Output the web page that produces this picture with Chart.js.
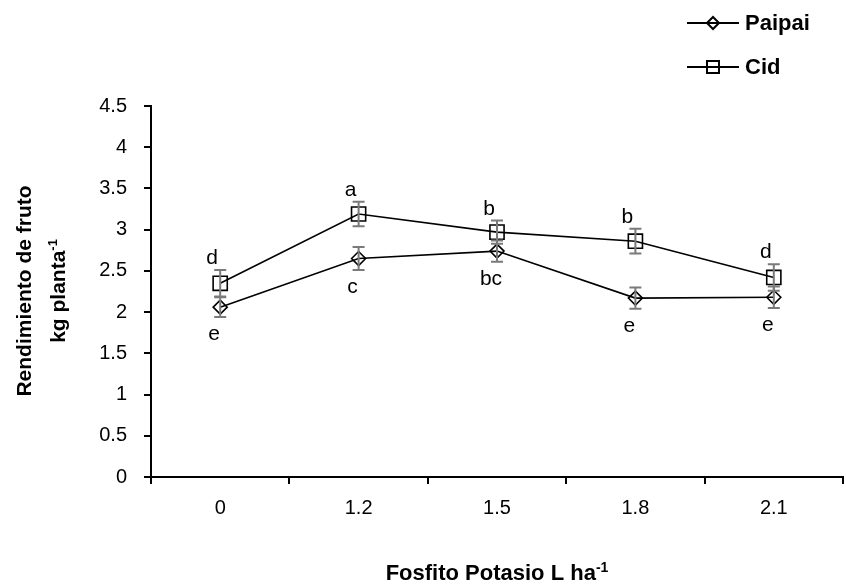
<!DOCTYPE html>
<html>
<head>
<meta charset="utf-8">
<script src="https://cdn.jsdelivr.net/npm/chart.js@4/dist/chart.umd.min.js"></script>
<style>
  html, body { margin: 0; padding: 0; background: #fff; }
  #wrap { width: 846px; height: 588px; }
</style>
</head>
<body>
<div id="wrap"><canvas id="myChart" width="846" height="588"></canvas></div>
<script>
'use strict';
// doses of potassium phosphite (L/ha)
var categories = ['0', '1.2', '1.5', '1.8', '2.1'];

// yield kg/plant
var paipai = [2.06, 2.65, 2.74, 2.17, 2.18];
var cid = [2.35, 3.19, 2.97, 2.86, 2.42];

// standard errors
var paipaiErr = [0.12, 0.14, 0.13, 0.13, 0.13];
var cidErr = [0.16, 0.15, 0.14, 0.15, 0.16];

// mean separation letters
var paipaiLetters = ['e', 'c', 'bc', 'e', 'e'];
var cidLetters = ['d', 'a', 'b', 'b', 'd'];

var yTicks = [0, 0.5, 1, 1.5, 2, 2.5, 3, 3.5, 4, 4.5];

var FONT = "'Liberation Sans', Arial, sans-serif";
var BOLD = "'Liberation Sans', Arial, sans-serif";

/**
 * Draws text with a superscript tail, centred on x
 */
var drawSup = function(ctx, main, sup, x, y, size) {
    ctx.font = 'bold ' + size + 'px ' + BOLD;
    var w1 = ctx.measureText(main).width;
    ctx.font = 'bold ' + Math.round(size * 0.62) + 'px ' + BOLD;
    var w2 = ctx.measureText(sup).width;
    var left = x - (w1 + w2) / 2;
    ctx.textAlign = 'left';
    ctx.textBaseline = 'alphabetic';
    ctx.font = 'bold ' + size + 'px ' + BOLD;
    ctx.fillText(main, left, y);
    ctx.font = 'bold ' + Math.round(size * 0.62) + 'px ' + BOLD;
    ctx.fillText(sup, left + w1, y - size * 0.38);
};

var extras = {
    id: 'extras',
    afterDatasetsDraw: function(chart) {
        var ctx = chart.ctx;
        var x = chart.scales.x;
        var y = chart.scales.y;
        ctx.save();

        // error bars
        ctx.strokeStyle = '#7a7a7a';
        ctx.lineWidth = 2;
        var bars = function(vals, errs) {
            vals.forEach(function(v, i) {
                var px = x.getPixelForValue(i);
                var top = y.getPixelForValue(v + errs[i]);
                var bot = y.getPixelForValue(v - errs[i]);
                ctx.beginPath();
                ctx.moveTo(px, top); ctx.lineTo(px, bot);
                ctx.moveTo(px - 6, top); ctx.lineTo(px + 6, top);
                ctx.moveTo(px - 6, bot); ctx.lineTo(px + 6, bot);
                ctx.stroke();
            });
        };
        bars(paipai, paipaiErr);
        bars(cid, cidErr);

        // letters
        ctx.fillStyle = '#000';
        ctx.font = '21px ' + FONT;
        ctx.textAlign = 'center';
        ctx.textBaseline = 'alphabetic';
        cid.forEach(function(v, i) {
            ctx.fillText(cidLetters[i], x.getPixelForValue(i) - 8, y.getPixelForValue(v + cidErr[i]) - 6);
        });
        paipai.forEach(function(v, i) {
            ctx.fillText(paipaiLetters[i], x.getPixelForValue(i) - 6, y.getPixelForValue(v - paipaiErr[i]) + 23);
        });

        // axis titles
        drawSup(ctx, 'Fosfito Potasio L ha', '-1', (chart.chartArea.left + chart.chartArea.right) / 2, 580, 22);
        ctx.save();
        ctx.translate(25, 291);
        ctx.rotate(-Math.PI / 2);
        ctx.font = 'bold 21px ' + BOLD;
        ctx.textAlign = 'center';
        ctx.textBaseline = 'middle';
        ctx.fillText('Rendimiento de fruto', 0, 0);
        ctx.restore();
        ctx.save();
        ctx.translate(65, 291);
        ctx.rotate(-Math.PI / 2);
        drawSup(ctx, 'kg planta', '-1', 0, 0, 21);
        ctx.restore();

        // legend
        ctx.strokeStyle = '#000';
        var rows = [['Paipai', 'rectRot', 6, 23], ['Cid', 'rect', 8.5, 67]];
        rows.forEach(function(r) {
            ctx.lineWidth = 2;
            ctx.beginPath();
            ctx.moveTo(687, r[3]); ctx.lineTo(739, r[3]);
            ctx.stroke();
            ctx.fillStyle = 'rgba(0,0,0,0)';
            Chart.helpers.drawPoint(ctx, {pointStyle: r[1], radius: r[2], borderWidth: 1.6}, 713, r[3]);
            ctx.fillStyle = '#000';
            ctx.font = 'bold 22px ' + BOLD;
            ctx.textAlign = 'left';
            ctx.textBaseline = 'middle';
            ctx.fillText(r[0], 745, r[3] + 1);
        });
        ctx.restore();
    }
};

var ctx = document.getElementById('myChart');
var myChart = new Chart(ctx, {
    type: 'line',
    data: {
        labels: categories,
        datasets: [{
            label: 'Paipai',
            data: paipai,
            borderColor: '#000',
            borderWidth: 1.6,
            pointStyle: 'rectRot',
            pointRadius: 7,
            pointBorderWidth: 1.6,
            pointBorderColor: '#000',
            pointBackgroundColor: 'rgba(0,0,0,0)'
        }, {
            label: 'Cid',
            data: cid,
            borderColor: '#000',
            borderWidth: 1.6,
            pointStyle: 'rect',
            pointRadius: 10,
            pointBorderWidth: 1.6,
            pointBorderColor: '#000',
            pointBackgroundColor: 'rgba(0,0,0,0)'
        }]
    },
    options: {
        responsive: false,
        animation: false,
        layout: { autoPadding: false, padding: { top: 106, right: 3, left: 0, bottom: 0 } },
        elements: { line: { tension: 0 } },
        plugins: { legend: { display: false }, tooltip: { enabled: false } },
        scales: {
            x: {
                offset: true,
                grid: { offset: true, drawOnChartArea: false, tickLength: 7, color: '#000', lineWidth: 2 },
                border: { color: '#000', width: 2 },
                ticks: { color: '#000', font: { family: FONT, size: 20 }, padding: 12 },
                afterFit: function(scale) {
                    scale.height = 111;
                    scale.paddingLeft = 0;
                    scale.paddingRight = 0;
                }
            },
            y: {
                min: 0,
                max: 4.5,
                afterBuildTicks: function(scale) {
                    scale.ticks = yTicks.map(function(v) { return { value: v }; });
                },
                grid: { drawOnChartArea: false, tickLength: 7, color: '#000', lineWidth: 2 },
                border: { color: '#000', width: 2 },
                ticks: {
                    color: '#000',
                    font: { family: FONT, size: 20 },
                    padding: 17,
                    callback: function(v) { return String(v); }
                },
                afterFit: function(scale) { scale.width = 151; }
            }
        }
    },
    plugins: [extras]
});
</script>
</body>
</html>
